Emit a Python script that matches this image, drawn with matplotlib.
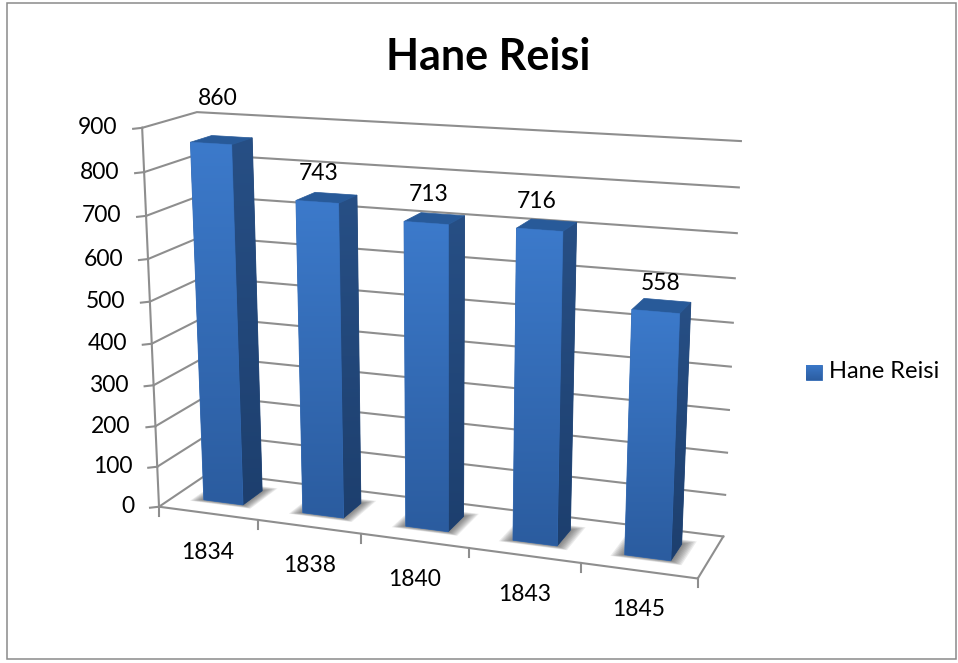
import numpy as np
import matplotlib
matplotlib.use("Agg")
from matplotlib import pyplot as plt
from matplotlib.patches import Polygon, Rectangle
from matplotlib.colors import LinearSegmentedColormap

plt.rcParams['font.family'] = ['Lato', 'DejaVu Sans']

years = ['1834', '1838', '1840', '1843', '1845']
values = [860, 743, 713, 716, 558]
y_ticks = [0, 100, 200, 300, 400, 500, 600, 700, 800, 900]
title = 'Hane Reisi'
series_name = 'Hane Reisi'

y_max = y_ticks[-1]
n = len(years)

# pixel positions of the plot box corners, used to fit the 3d camera
box_world = [(0, 0, 0), (0, y_max, 0), (0, y_max, 1), (n, y_max, 1), (n, 0, 1), (n, 0, 0), (0, 0, 1)]
box_pixel = [(158, 507), (143, 128), (196, 112), (741, 141), (723, 537), (698, 578), (211, 472)]

A = []
b = []
for (X, Y, Z), (u, v) in zip(box_world, box_pixel):
    A.append([X, Y, Z, 1, 0, 0, 0, 0, -u * X, -u * Y, -u * Z])
    A.append([0, 0, 0, 0, X, Y, Z, 1, -v * X, -v * Y, -v * Z])
    b += [u, v]
cam = np.linalg.lstsq(np.array(A, dtype=float), np.array(b, dtype=float), rcond=None)[0]
cam = np.append(cam, 1).reshape(3, 4)


def proj(x, y, z):
    p = cam @ np.array([x, y, z, 1.0])
    return p[0] / p[2], p[1] / p[2]


def gradient_face(ax, pts, top, bottom, zorder):
    cmap = LinearSegmentedColormap.from_list('f', [top, bottom])
    pts = np.array(pts)
    # solid underlay stops white hairlines at the clipped edge
    ax.add_patch(Polygon(pts, closed=True, fc=cmap(0.5), ec=cmap(0.5), lw=0.6, zorder=zorder))
    patch = Polygon(pts, closed=True, fc='none', ec='none', zorder=zorder)
    ax.add_patch(patch)
    grad = np.linspace(0, 1, 256).reshape(-1, 1)
    im = ax.imshow(grad, cmap=cmap, aspect='auto', zorder=zorder, interpolation='bilinear',
                   extent=(pts[:, 0].min() - 1, pts[:, 0].max() + 1, pts[:, 1].max() + 1, pts[:, 1].min() - 1))
    im.set_clip_path(patch)


fig = plt.figure(figsize=(9.58, 6.63), dpi=100)
ax = fig.add_axes([0, 0, 1, 1])
ax.axis('off')

grid_color = '#8e8e8e'
text_color = '#000000'
font_size = 16.5

# chart frame
ax.add_patch(Rectangle((7.5, 2.5), 949, 656.5, fc='white', ec='#8a8a8a', lw=1.1, zorder=0))

# gridlines on side wall and back wall
for t in y_ticks:
    pts = [proj(0, t, 0), proj(0, t, 1), proj(n, t, 1)]
    ax.plot(*zip(*pts), color=grid_color, lw=1.5, zorder=1, solid_joinstyle='miter')
    # tick
    u, v = proj(0, t, 0)
    ax.plot([u - 9, u], [v + 1, v], color=grid_color, lw=1.5, zorder=1)
    ax.text(u - 25, v, str(t), ha='right', va='center', fontsize=font_size, color=text_color)

# floor and axes
ax.plot(*zip(proj(0, 0, 0), proj(0, y_max, 0)), color=grid_color, lw=1.5, zorder=1)
ax.plot(*zip(proj(0, 0, 0), proj(n, 0, 0), proj(n, 0, 1)), color=grid_color, lw=1.5, zorder=1)
for i in range(n + 1):
    u, v = proj(i, 0, 0)
    ax.plot([u, u], [v, v + 9], color=grid_color, lw=1.5, zorder=1)

bar_l, bar_r = 0.3, 0.7
bar_f, bar_b = 0.3, 0.7

# value label offsets from the bar top centre, the first label sits higher
label_dx = [-4, -8, -6, -10, -1]
label_dy = [-42, -24, -24, -24, -22]
for i, val in enumerate(values):
    x0, x1 = i + bar_l, i + bar_r
    base = 2 + i * 3

    # soft shadow on the floor
    for k in range(10):
        g = 0.012 * k
        sh = [proj(x0 - g, 0, bar_f - g * 0.6), proj(x1 + g, 0, bar_f - g * 0.6),
              proj(x1 + g, 0, bar_b + g), proj(x0 - g, 0, bar_b + g)]
        ax.add_patch(Polygon(sh, closed=True, fc='#444444', ec='none', alpha=0.1, zorder=base))

    side = [proj(x1, val, bar_f), proj(x1, val, bar_b), proj(x1, 0, bar_b), proj(x1, 0, bar_f)]
    top = [proj(x0, val, bar_f), proj(x1, val, bar_f), proj(x1, val, bar_b), proj(x0, val, bar_b)]
    front = [proj(x0, val, bar_f), proj(x1, val, bar_f), proj(x1, 0, bar_f), proj(x0, 0, bar_f)]
    gradient_face(ax, side, '#274f85', '#1d3f6e', base + 1)
    ax.add_patch(Polygon(top, closed=True, fc='#285a99', ec='#285a99', lw=0.5, zorder=base + 1))
    gradient_face(ax, front, '#3c7acb', '#2b5c9f', base + 2)

    u, v = proj(i + 0.5, val, 0.5)
    ax.text(u + label_dx[i], v + label_dy[i], str(val), ha='center', va='center',
            fontsize=font_size, color=text_color, zorder=30)

    u, v = proj(i + 0.5, 0, 0)
    ax.text(u, v + 39, years[i], ha='center', va='center', fontsize=font_size, color=text_color)

ax.text(488, 57, title, ha='center', va='center', fontsize=31, fontweight='bold', color=text_color)

# legend
gradient_face(ax, [(806, 365), (822, 365), (822, 380), (806, 380)], '#3c7acb', '#2b5c9f', 5)
ax.text(829, 372, series_name, ha='left', va='center', fontsize=17, color=text_color)

ax.set_xlim(0, 958)
ax.set_ylim(663, 0)
fig.savefig('out.png', dpi=100)
